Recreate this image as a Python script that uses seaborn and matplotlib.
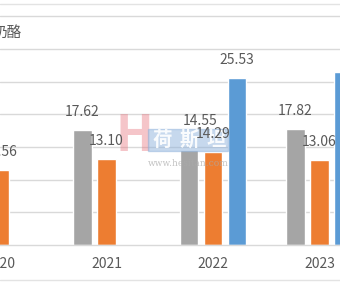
import matplotlib
matplotlib.use("Agg")
import matplotlib.pyplot as plt
from matplotlib.lines import Line2D
from matplotlib.patches import Rectangle
import seaborn as sns
import pandas as pd
import numpy as np

# ---- data ----
years = ["2020", "2021", "2022", "2023"]
series = ["灰", "橙", "蓝"]
gray_vals = [np.nan, 17.62, 14.55, 17.82]
orange_vals = [11.56, 13.10, 14.29, 13.06]
blue_vals = [np.nan, np.nan, 25.53, 26.49]
colors = ["#A5A5A5", "#ED7D31", "#5B9BD5"]
legend_text = "奶酪"

sns.set_theme(style="white")
plt.rcParams["font.family"] = ["Noto Sans CJK SC", "DejaVu Sans"]

rows = []
for name, vals in zip(series, [gray_vals, orange_vals, blue_vals]):
    for y, v in zip(years, vals):
        rows.append({"year": y, "series": name, "value": v})
df = pd.DataFrame(rows)

W, H = 340, 286
fig = plt.figure(figsize=(W / 100, H / 100), dpi=100)
fig.patch.set_facecolor("white")
ax = fig.add_axes([0, 1 - 245 / H, 1, (245 - 4) / H])

sns.barplot(data=df, x="year", y="value", hue="series", order=years,
            hue_order=series, palette=colors, width=0.676, gap=0.21,
            errorbar=None, legend=False, ax=ax, saturation=1)

px_per_unit = 6.53
ax.set_ylim(0, 241 / px_per_unit)
ax.set_xlim(0, 340 / 106.5)
ax.set_yticks(np.arange(5, 40, 5))
ax.yaxis.grid(True, color="#D9D9D9", linewidth=1)
ax.set_axisbelow(True)
ax.tick_params(axis="y", left=False, labelleft=False)
ax.tick_params(axis="x", bottom=False, colors="#595959", labelsize=10, pad=2.8)
for s in ["top", "left", "right"]:
    ax.spines[s].set_visible(False)
ax.spines["bottom"].set_color("#D9D9D9")
ax.spines["bottom"].set_linewidth(1)
ax.set_xlabel("")
ax.set_ylabel("")
ax.set_facecolor("none")

def fx(x):
    return x / W

def fy(y):
    return 1 - y / H

# watermark (under the data labels)
ft = fig.transFigure
ax.text(fx(134), fy(137), "H", ha="center", va="center", fontsize=36,
        color="#E8707A", alpha=0.4, fontweight="bold", zorder=4,
        transform=ft, clip_on=False)
ax.add_artist(Rectangle((fx(148), fy(151)), fx(228) - fx(148), fy(129) - fy(151),
                        transform=ft, color="#8FB3DC", alpha=0.5, zorder=4,
                        clip_on=False))
for i, ch in enumerate("荷斯坦"):
    ax.text(fx(162 + 27 * i), fy(140), ch, ha="center", va="center", fontsize=14,
            color="white", alpha=0.9, fontweight="bold", zorder=4.5,
            transform=ft, clip_on=False)
ax.text(fx(188), fy(163), "www.hesitan.com", ha="center", va="center",
        fontsize=6.5, color="#AAAAAA", alpha=0.7, family="DejaVu Serif",
        zorder=4.5, transform=ft, clip_on=False)

# data labels
for ci, cont in enumerate(ax.containers):
    for bar in cont:
        h = bar.get_height()
        if np.isnan(h):
            continue
        cx = bar.get_x() + bar.get_width() / 2
        special = (ci == 0 and abs(h - 14.55) < 1e-6)
        if special:
            ax.annotate(f"{h:.2f}", xy=(cx, h), xytext=(11, 29),
                        textcoords="offset pixels", ha="center", va="center",
                        fontsize=10, color="#595959", zorder=6)
            ax.annotate("", xy=(cx + 2, h), xytext=(8, 21),
                        textcoords="offset pixels",
                        arrowprops=dict(arrowstyle="-", color="#A6A6A6", lw=0.8,
                                        shrinkA=0, shrinkB=8), zorder=6)
        else:
            ax.annotate(f"{h:.2f}", xy=(cx, h), xytext=(0, 18),
                        textcoords="offset pixels", ha="center", va="center",
                        fontsize=10, color="#595959", zorder=6)

# frame lines
fig.add_artist(Line2D([0, 1], [fy(4), fy(4)], color="#E3E3E3", lw=1))
fig.add_artist(Line2D([0, 1], [fy(280), fy(280)], color="#E3E3E3", lw=1))

# legend fragment
fig.text(fx(22), fy(33), legend_text, ha="right", va="center",
         fontsize=10.5, color="#595959")

fig.savefig("out.png", dpi=100)
